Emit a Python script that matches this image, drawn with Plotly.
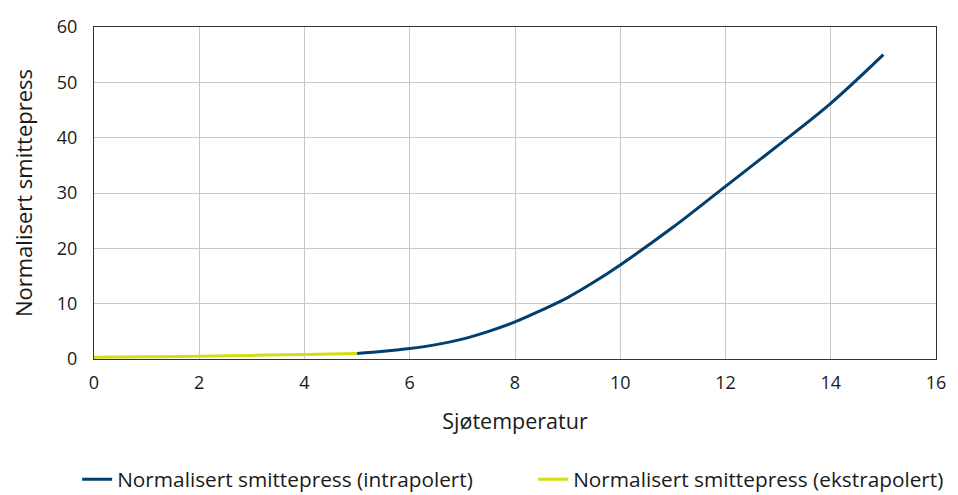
import plotly.graph_objects as go

# Data
temp_extra = [0, 1, 2, 3, 4, 5]
press_extra = [0.3, 0.4, 0.5, 0.65, 0.8, 1.0]

temp_intra = [5, 5.5, 6, 6.5, 7, 7.5, 8, 8.5, 9, 9.5, 10, 11, 12, 13, 14, 15]
press_intra = [1.0, 1.4, 1.9, 2.6, 3.6, 5.0, 6.7, 8.8, 11.1, 13.9, 17.0, 23.8, 31.2, 38.6, 46.2, 55.0]

x_ticks = [0, 2, 4, 6, 8, 10, 12, 14, 16]
y_ticks = [0, 10, 20, 30, 40, 50, 60]

BLUE = "#003f6e"
YELLOW = "#d6dc14"
FONT = "Open Sans"

fig = go.Figure()
fig.add_trace(go.Scatter(
    x=temp_intra, y=press_intra, mode="lines",
    line=dict(color=BLUE, width=3, shape="spline"),
    name="Normalisert smittepress (intrapolert)",
))
fig.add_trace(go.Scatter(
    x=temp_extra, y=press_extra, mode="lines",
    line=dict(color=YELLOW, width=3, shape="spline"),
    name="Normalisert smittepress (ekstrapolert)",
))

# page body has an 8px margin, so the figure is 8px smaller than the window
fig.update_layout(
    width=950, height=487,
    margin=dict(l=86, r=22, t=19, b=136, autoexpand=False),
    paper_bgcolor="white", plot_bgcolor="white",
    font=dict(family=FONT, size=18, color="#1a1a1a"),
    legend=dict(orientation="h", x=-0.02, xanchor="left", y=-0.302, yanchor="top",
                font=dict(size=20.8), entrywidth=411, tracegroupgap=0),
    showlegend=True,
)
fig.update_xaxes(
    range=[0, 16], tickvals=x_ticks, ticktext=[str(v) for v in x_ticks],
    showgrid=True, gridcolor="#c8c8c8", gridwidth=1,
    showline=True, linecolor="#333333", linewidth=1, mirror=True,
    zeroline=False, ticks="", ticklen=0, automargin=False,
    title=dict(text="Sjøtemperatur", font=dict(size=21.5), standoff=21),
    tickfont=dict(size=18), ticklabelstandoff=7,
)
fig.update_yaxes(
    range=[0, 60], tickvals=y_ticks, ticktext=[str(v) for v in y_ticks],
    showgrid=True, gridcolor="#c8c8c8", gridwidth=1,
    showline=True, linecolor="#333333", linewidth=1, mirror=True,
    zeroline=False, ticks="", ticklen=0, automargin=False,
    title=dict(text="Normalisert smittepress", font=dict(size=22), standoff=26),
    tickfont=dict(size=18), ticklabelstandoff=12,
)

fig.write_html("out.html")
